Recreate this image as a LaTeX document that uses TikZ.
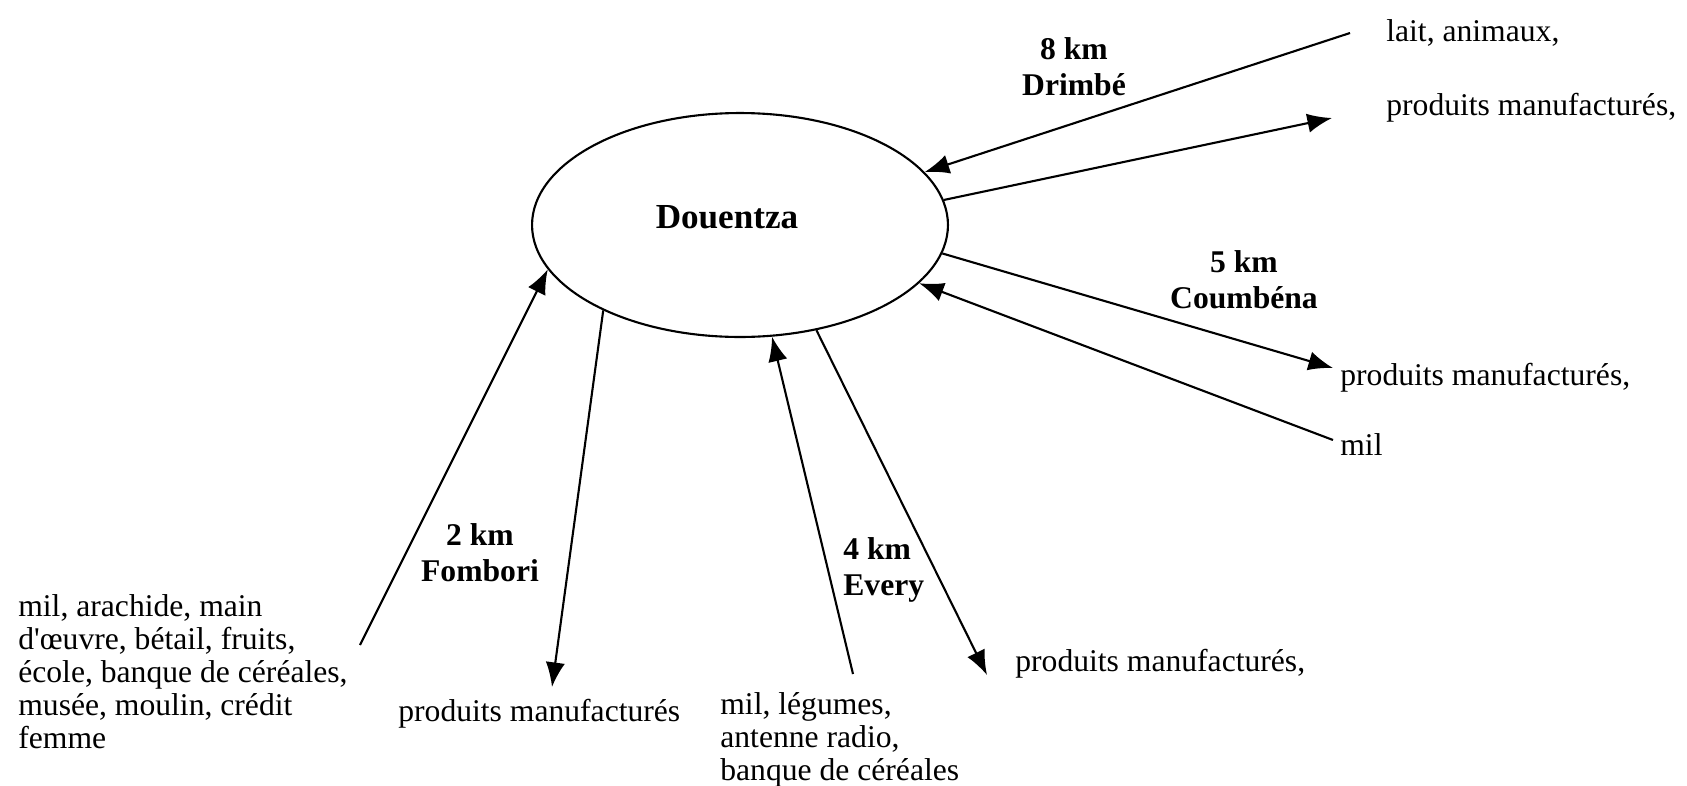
\documentclass[tikz,border=0pt]{standalone}
\usepackage{fontspec}
\setmainfont{Liberation Serif}
\usetikzlibrary{shapes.geometric,arrows.meta}

\begin{document}
\begin{tikzpicture}[
    x=0.02cm, y=-0.02cm,
    hub/.style={ellipse, draw, line width=1.2pt, minimum width=8.32cm, minimum height=4.48cm, inner sep=0pt},
    txt/.style={font=\fontsize{18}{18.8}\selectfont, inner sep=0pt, align=left},
    dist/.style={font=\fontsize{18}{20.5}\selectfont\bfseries, inner sep=0pt, align=center},
    arrow/.style={-{Latex[length=14pt, width=11pt]}, line width=1.2pt}
]
\useasboundingbox (0,0) rectangle (1687,785);

\node[hub] (douentza) at (740,225) {};
\node[font=\fontsize{20}{24}\selectfont\bfseries, inner sep=0pt] (townname) at (727,217) {Douentza};

% Drimbe
\node[dist] (drimbe) at (1074,67) {8 km\\Drimbé};
\node[txt, anchor=base west] (drimbein) at (1386,41) {lait, animaux,};
\node[txt, anchor=base west] (drimbeout) at (1386,115) {produits manufacturés,};
\coordinate (drimbeA) at (1350,33);
\coordinate (drimbeB) at (1332,118);
\draw[arrow] (drimbeA) -- (douentza.16);
\draw[arrow] (douentza.7) -- (drimbeB);

% Coumbena
\node[dist] (coumbena) at (1244,280) {5 km\\Coumbéna};
\node[txt, anchor=base west] (coumbenaout) at (1340,385) {produits manufacturés,};
\node[txt, anchor=base west] (coumbenain) at (1340,455) {mil};
\coordinate (coumbenaA) at (1333,440);
\coordinate (coumbenaB) at (1333,368);
\draw[arrow] (douentza.-8) -- (coumbenaB);
\draw[arrow] (coumbenaA) -- (douentza.-18);

% Fombori
\node[dist] (fombori) at (480,553) {2 km\\Fombori};
\node[txt, anchor=north west] (fomboriin) at (18,594) {mil, arachide, main\\d\textquotesingle œuvre, bétail, fruits,\\école, banque de céréales,\\musée, moulin, crédit\\femme};
\node[txt, anchor=base west] (fomboriout) at (398,721) {produits manufacturés};
\coordinate (fomboriA) at (360,645);
\coordinate (fomboriB) at (552,687);
\draw[arrow] (fomboriA) -- (douentza.-167);
\draw[arrow] (douentza.212) -- (fomboriB);

% Every
\node[dist, align=left, anchor=west] (every) at (843,570) {4 km\\Every};
\node[txt, anchor=north west] (everyin) at (720,692) {mil, légumes,\\antenne radio,\\banque de céréales};
\node[txt, anchor=base west] (everyout) at (1015,671) {produits manufacturés,};
\coordinate (everyA) at (853,674);
\coordinate (everyB) at (987,675);
\draw[arrow] (everyA) -- (douentza.-74);
\draw[arrow] (douentza.-54) -- (everyB);

\end{tikzpicture}
\end{document}
